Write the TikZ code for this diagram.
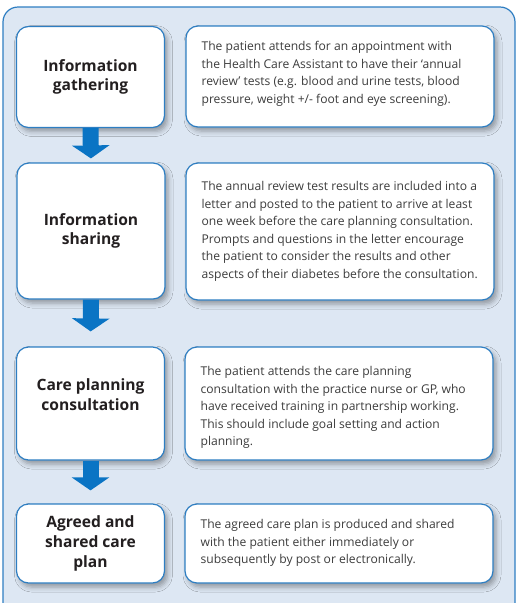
\documentclass[tikz,border=0pt]{standalone}
\usepackage{fontspec}
\setmainfont{Open Sans}
\usetikzlibrary{arrows.meta,shadows.blur}
\definecolor{panelfill}{HTML}{DDE7F3}
\definecolor{frameblue}{HTML}{2E7EC2}
\definecolor{arrowblue}{HTML}{0A74C4}
\definecolor{headgray}{HTML}{231F20}
\definecolor{bodygray}{HTML}{3C3C3C}

\begin{document}
\begin{tikzpicture}[x=1pt, y=-1pt,
    stagebox/.style={draw=frameblue, line width=1.2pt, fill=white, rounded corners=12pt,
        minimum width=148pt, blur shadow={shadow xshift=3pt, shadow yshift=-4pt,
        shadow blur radius=5pt, shadow opacity=35}},
    notebox/.style={stagebox, minimum width=308pt},
    headtext/.style={font=\fontsize{15.6}{19.8}\selectfont\bfseries, text=headgray,
        align=center, inner sep=0pt},
    bodytext/.style={font=\fontsize{12.1}{17.5}\selectfont, text=bodygray,
        align=left, anchor=north west, inner sep=0pt},
    flow/.style={draw=arrowblue, line width=16pt, -{Triangle[width=37pt,length=13pt]}}]
    \useasboundingbox (0,0) rectangle (521,603);
    % background panel, open at the bottom
    \path[fill=panelfill, draw=frameblue, line width=1.2pt, rounded corners=15pt]
        (3,603) -- (3,7) -- (515,7) -- (515,603);

    % stages on the left
    \node[stagebox, minimum height=101pt] (g1) at (90.5,77) {};
    \node[stagebox, minimum height=136pt] (g2) at (91,231) {};
    \node[stagebox, minimum height=113pt] (g3) at (90.5,403.5) {};
    \node[stagebox, minimum height=79pt] (g4) at (90.5,543.5) {};
    \node[headtext] (h1) at (g1) {Information\\gathering};
    \node[headtext] (h2) at (g2) {Information\\sharing};
    \node[headtext] (h3) at ([yshift=9pt]g3.center) {Care planning\\consultation};
    \node[headtext] (h4) at (g4) {Agreed and\\shared care\\plan};

    % descriptions on the right
    \node[notebox, minimum height=101pt] (d1) at (340,76.5) {};
    \node[notebox, minimum height=137pt] (d2) at (340,231.5) {};
    \node[notebox, minimum height=113pt] (d3) at (339,403.5) {};
    \node[notebox, minimum height=79pt] (d4) at (339,543.5) {};
    \node[bodytext] (b1) at ([xshift=16pt,yshift=-16pt]d1.north west)
        {The patient attends for an appointment with\\
         the Health Care Assistant to have their ‘annual\\
         review’ tests (e.g. blood and urine tests, blood\\
         pressure, weight +/- foot and eye screening).};
    \node[bodytext] (b2) at ([xshift=16pt,yshift=-19pt]d2.north west)
        {The annual review test results are included into a\\
         letter and posted to the patient to arrive at least\\
         one week before the care planning consultation.\\
         Prompts and questions in the letter encourage\\
         the patient to consider the results and other\\
         aspects of their diabetes before the consultation.};
    \node[bodytext] (b3) at ([xshift=16pt,yshift=-20pt]d3.north west)
        {The patient attends the care planning\\
         consultation with the practice nurse or GP, who\\
         have received training in partnership working.\\
         This should include goal setting and action\\
         planning.};
    \node[bodytext] (b4) at ([xshift=16pt,yshift=-16pt]d4.north west)
        {The agreed care plan is produced and shared\\
         with the patient either immediately or\\
         subsequently by post or electronically.};

    % block arrows between stages
    \draw[flow, shorten >=4pt] (g1.south) -- (g2.north);
    \draw[flow, shorten >=15pt] (g2.south) -- (g3.north);
    \draw[flow, shorten >=13pt] (g3.south) -- (g4.north);
\end{tikzpicture}
\end{document}
